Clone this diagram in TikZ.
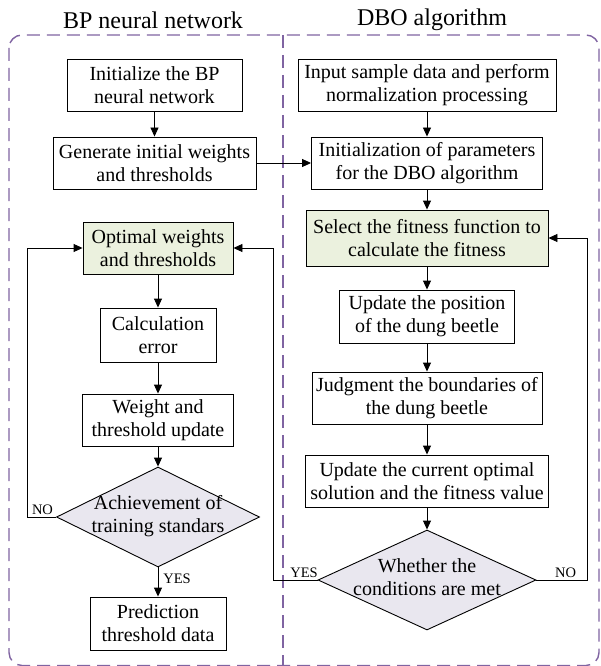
\documentclass[tikz,border=0pt]{standalone}
\usepackage{fontspec}
\setmainfont{Liberation Serif}
\usetikzlibrary{arrows.meta,shapes.geometric}
\definecolor{dashpurple}{RGB}{128,100,162}
\definecolor{boxgreen}{RGB}{235,241,222}
\definecolor{diafill}{RGB}{233,231,239}
\newcommand\dtext[1]{\makebox[0pt]{\raisebox{-5pt}[0pt][0pt]{\begin{tabular}{@{}c@{}}#1\end{tabular}}}}
\begin{document}
\begin{tikzpicture}[x=1pt,y=-1pt,
  every node/.style={font=\fontsize{20}{23}\selectfont},
  proc/.style={draw=black,line width=0.9pt,align=center,inner sep=0pt,fill=white},
  greenbox/.style={proc,fill=boxgreen},
  decision/.style={diamond,draw=black,line width=0.9pt,fill=diafill,inner sep=0pt,aspect=2},
  arr/.style={draw=black,line width=0.9pt,-{Triangle[length=9pt,width=8pt]}},
  lbl/.style={font=\fontsize{14.5}{16}\selectfont,inner sep=0pt},
  ttl/.style={font=\fontsize{24}{28}\selectfont,inner sep=0pt},
  frame/.style={draw=dashpurple,line width=1.4pt,dash pattern=on 13pt off 7pt}]
\useasboundingbox (0,0) rectangle (601,666);
% frame
\draw[frame,rounded corners=13pt] (9,35) rectangle (599,665.5);
\draw[frame] (283,35) -- (283,666);
% titles
\node[ttl] (t1) at (153,20) {BP neural network};
\node[ttl] (t2) at (432,20) {DBO algorithm};
% left column
\node[proc,minimum width=175pt,minimum height=52pt] (B1) at (154.5,85) {Initialize the BP\\neural network};
\node[proc,minimum width=203pt,minimum height=52pt] (B2) at (154.5,163) {Generate initial weights\\and thresholds};
\node[greenbox,minimum width=150pt,minimum height=52pt] (B3) at (158,248) {Optimal weights\\and thresholds};
\node[proc,minimum width=116pt,minimum height=54pt] (B4) at (158,335) {Calculation\\error};
\node[proc,minimum width=151pt,minimum height=52pt] (B5) at (158,420) {Weight and\\threshold update};
\node[decision,minimum width=203pt,minimum height=100pt] (D1) at (158,517) {\dtext{Achievement of\\training standars}};
\node[proc,minimum width=136pt,minimum height=53pt] (B6) at (158,623.5) {Prediction\\threshold data};
% right column
\node[proc,minimum width=258pt,minimum height=52pt] (R1) at (427,85) {Input sample data and perform\\normalization processing};
\node[proc,minimum width=231pt,minimum height=52pt] (R2) at (427,163) {Initialization of parameters\\for the DBO algorithm};
\node[greenbox,minimum width=242pt,minimum height=56pt] (R3) at (427,238) {Select the fitness function to\\calculate the fitness};
\node[proc,minimum width=175pt,minimum height=53pt] (R4) at (427,316.5) {Update the position\\of the dung beetle};
\node[proc,minimum width=230pt,minimum height=52pt] (R5) at (427,398) {Judgment the boundaries of\\the dung beetle};
\node[proc,minimum width=243pt,minimum height=52pt] (R6) at (427,481) {Update the current optimal\\solution and the fitness value};
\node[decision,minimum width=218pt,minimum height=100pt] (D2) at (427,580) {\dtext{Whether the\\conditions are met}};
% loop corners
\coordinate (nl) at (27,517);
\coordinate (yl) at (273,580);
\coordinate (nr) at (587,580);
% arrows
\draw[arr] (B1) -- (B2);
\draw[arr] (B2) -- (R2);
\draw[arr] (B3) -- (B4);
\draw[arr] (B4) -- (B5);
\draw[arr] (B5) -- (D1);
\draw[arr] (D1) -- (B6);
\draw[arr] (R1) -- (R2);
\draw[arr] (R2) -- (R3);
\draw[arr] (R3) -- (R4);
\draw[arr] (R4) -- (R5);
\draw[arr] (R5) -- (R6);
\draw[arr] (R6) -- (D2);
\draw[arr] (D1.west) -- (nl) |- (B3.west);
\draw[arr] (D2.west) -- (yl) |- (B3.east);
\draw[arr] (D2.east) -- (nr) |- (R3.east);
% labels
\node[lbl] (l1) at (42.5,510) {NO};
\node[lbl] (l2) at (177,578.5) {YES};
\node[lbl] (l3) at (304,573) {YES};
\node[lbl] (l4) at (565.5,573) {NO};
\end{tikzpicture}
\end{document}
